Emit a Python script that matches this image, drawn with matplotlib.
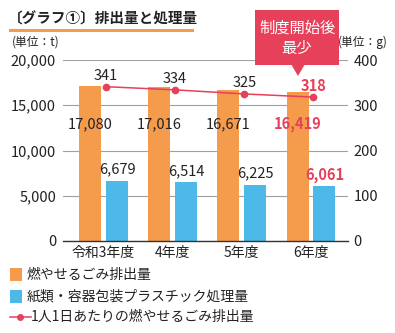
import matplotlib
matplotlib.use('Agg')
import matplotlib.pyplot as plt
from matplotlib.patches import Polygon, Rectangle
from matplotlib.lines import Line2D
import numpy as np

plt.rcParams['font.family'] = ['Noto Sans CJK JP', 'DejaVu Sans']

years = ['令和3年度', '4年度', '5年度', '6年度']
burnable = [17080, 17016, 16671, 16419]
plastic = [6679, 6514, 6225, 6061]
per_person = [341, 334, 325, 318]
burn_labels = ['17,080', '17,016', '16,671', '16,419']
plastic_labels = ['6,679', '6,514', '6,225', '6,061']

orange = '#F59B4C'
blue = '#4DB9E8'
red = '#E6405A'
grid = '#a0a0a0'

W, H = 395, 333
fig = plt.figure(figsize=(W / 100, H / 100), dpi=100)

def fx(px):
    return px / W

def fy(py):
    return 1 - py / H

ax = fig.add_axes([fx(63), fy(241), fx(348) - fx(63), fy(60) - fy(241)])
ax2 = ax.twinx()

x = np.arange(len(years))
bw = 0.318
ax.bar(x - 0.195, burnable, bw, color=orange, zorder=2)
ax.bar(x + 0.195, plastic, bw, color=blue, zorder=2)

ax.set_xlim(-0.585, 3.535)
ax.set_ylim(0, 20000)
ax.set_yticks([0, 5000, 10000, 15000, 20000])
ax.set_yticklabels(['0', '5,000', '10,000', '15,000', '20,000'])
ax.yaxis.grid(True, color=grid, lw=0.8, zorder=0)
ax.set_axisbelow(True)
for s in ['top', 'right', 'left']:
    ax.spines[s].set_visible(False)
ax.spines['bottom'].set_color('#333333')
ax.spines['bottom'].set_linewidth(1.0)
ax.tick_params(axis='y', length=0, pad=5, labelsize=10.5, colors='#222222')
ax.tick_params(axis='x', length=0, pad=3.5, labelsize=10, colors='#222222')
ax.set_xticks(x)
ax.set_xticklabels(years)

for i in range(len(years)):
    c = red if i == len(years) - 1 else '#222222'
    fw = 'bold' if i == len(years) - 1 else 'normal'
    ax.text(x[i] - 0.195, 12900, burn_labels[i], ha='center', va='center',
            fontsize=10.5, color=c, fontweight=fw, zorder=4)
    ax.annotate(plastic_labels[i], (x[i] + 0.195, plastic[i]), xytext=(0, 8),
                textcoords='offset points', ha='center', va='center',
                fontsize=10.5, color=c, fontweight=fw, zorder=4)

ax2.plot(x + 0.035, per_person, color=red, lw=1.1, marker='o', ms=4.5, zorder=3)
ax2.set_ylim(0, 400)
ax2.set_yticks([0, 100, 200, 300, 400])
for s in ['top', 'right', 'left', 'bottom']:
    ax2.spines[s].set_visible(False)
ax2.tick_params(axis='y', length=0, pad=4, labelsize=10.5, colors='#222222')
for i in range(len(years)):
    c = red if i == len(years) - 1 else '#222222'
    fw = 'bold' if i == len(years) - 1 else 'normal'
    ax2.annotate(str(per_person[i]), (x[i] + 0.035, per_person[i]), xytext=(0, 8),
                 textcoords='offset points', ha='center', va='center',
                 fontsize=10.5, color=c, fontweight=fw)

# title and underline
fig.text(fx(8), fy(18), '〔グラフ①〕排出量と処理量', fontsize=10.5, fontweight='bold',
         ha='left', va='center', color='#222222')
fig.add_artist(Line2D([fx(10), fx(192)], [fy(29.5), fy(29.5)], color=orange, lw=2.2))

fig.text(fx(12), fy(42), '(単位：t)', fontsize=8.5, ha='left', va='center', color='#222222')
fig.text(fx(338), fy(42), '(単位：g)', fontsize=8.5, ha='left', va='center', color='#222222')

# callout
fig.add_artist(Rectangle((fx(255), fy(65)), fx(339) - fx(255), fy(10) - fy(65),
                         color=red, lw=0, zorder=5))
fig.add_artist(Polygon([[fx(291), fy(64)], [fx(305), fy(64)], [fx(298), fy(76)]],
                       closed=True, color=red, lw=0, zorder=5))
fig.text(fx(297), fy(28), '制度開始後', fontsize=11, ha='center', va='center',
         color='white', zorder=6)
fig.text(fx(297), fy(48), '最少', fontsize=11, ha='center', va='center',
         color='white', zorder=6)

# legend
fig.add_artist(Rectangle((fx(10), fy(281)), fx(22) - fx(10), fy(268) - fy(281),
                         color=orange, lw=0))
fig.text(fx(27), fy(274.5), '燃やせるごみ排出量', fontsize=10, ha='left', va='center',
         color='#222222')
fig.add_artist(Rectangle((fx(10), fy(303)), fx(22) - fx(10), fy(290) - fy(303),
                         color=blue, lw=0))
fig.text(fx(27), fy(296.5), '紙類・容器包装プラスチック処理量', fontsize=10, ha='left',
         va='center', color='#222222')
fig.add_artist(Line2D([fx(10), fx(31)], [fy(317), fy(317)], color=red, lw=1.1))
fig.add_artist(Line2D([fx(20)], [fy(317)], color=red, marker='o', ms=4))
fig.text(fx(31), fy(316.5), '1人1日あたりの燃やせるごみ排出量', fontsize=10, ha='left',
         va='center', color='#222222')

fig.savefig('out.png', dpi=100)
